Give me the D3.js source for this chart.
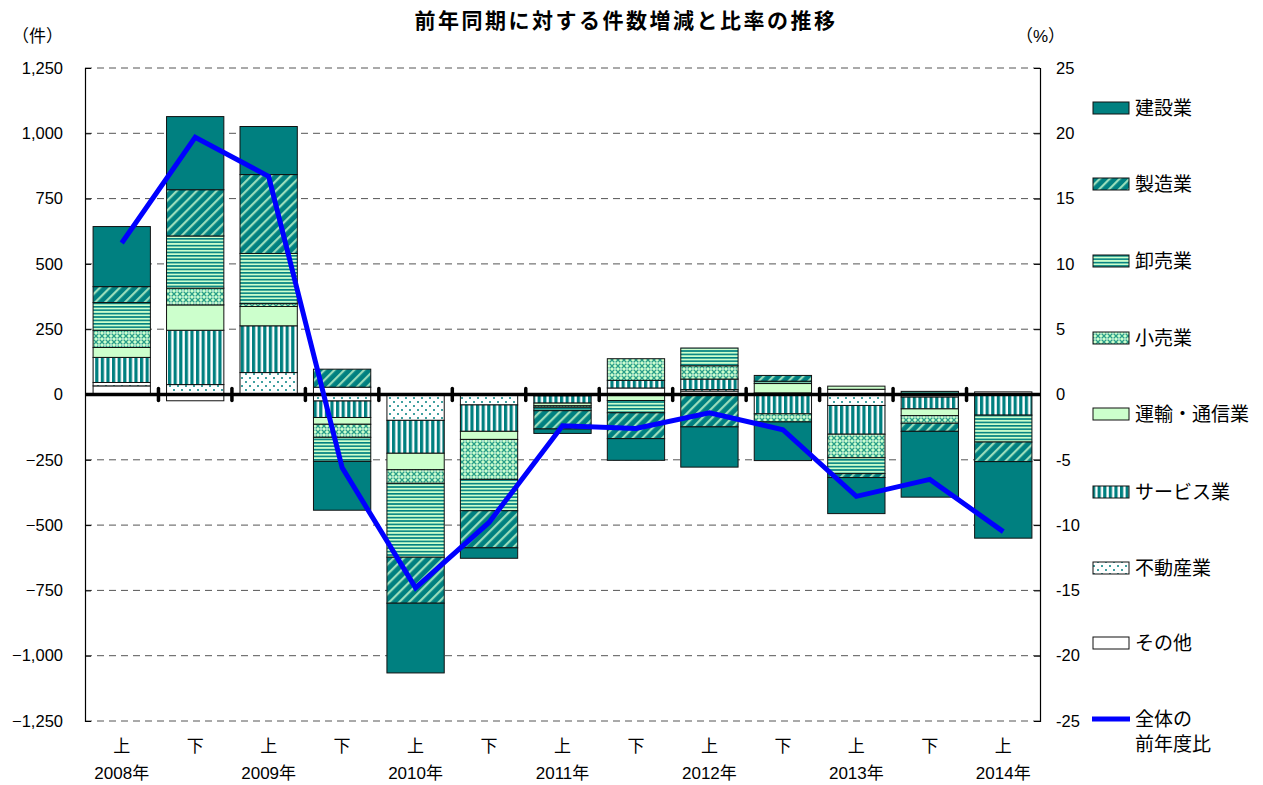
<!DOCTYPE html>
<html><head><meta charset="utf-8">
<script src="https://cdn.jsdelivr.net/npm/d3@7"></script>
<style>
body{margin:0;background:#fff;}
svg{display:block;font-family:Arial,"Liberation Sans","Noto Sans CJK JP",sans-serif;}
</style></head>
<body>
<svg id="chart" width="1263" height="785"></svg>
<script>
// ---- data ----
const halves = ["上","下","上","下","上","下","上","下","上","下","上","下","上"];
const years  = ["2008年","","2009年","","2010年","","2011年","","2012年","","2013年","","2014年"];
const seriesNames = ["その他","不動産業","サービス業","運輸・通信業","小売業","卸売業","製造業","建設業"];
const sonota   = [33, -24, 0, 28, 0, 0, 0, 25, 13, 6, 20, -10, 10];
const fudosan  = [13, 38, 84, -25, -99, -40, -5, 0, 6, 0, -42, 0, 0];
const service  = [96, 208, 179, -63, -126, -101, -28, 29, 40, -74, -110, -45, -79];
const unyu     = [38, 97, 74, -26, -63, -31, -10, -23, 0, 36, 12, -26, 0];
const kouri    = [66, 64, 11, -50, -52, -153, -6, 83, 51, -31, -90, -29, 0];
const oroshi   = [106, 200, 192, -92, -283, -120, -13, -47, 68, 9, -61, 12, -103];
const seizo    = [61, 177, 302, 69, -176, -142, -70, -99, -124, 22, -15, -31, -75];
const kensetsu = [230, 280, 184, -187, -267, -40, -17, -83, -154, -148, -138, -252, -293];
const ratio    = [11.6, 19.7, 16.7, -5.6, -14.8, -9.8, -2.4, -2.6, -1.4, -2.7, -7.8, -6.5, -10.5];
const leftTicks  = [1250, 1000, 750, 500, 250, 0, -250, -500, -750, -1000, -1250];
const rightTicks = [25, 20, 15, 10, 5, 0, -5, -10, -15, -20, -25];
const seriesData = [sonota, fudosan, service, unyu, kouri, oroshi, seizo, kensetsu];

const svg = d3.select("#chart");
const L = 85, R = 1040, T = 68, B = 721;
const TEAL = "#008080", LG = "#ccffcc";

// ---- patterns ----
const defs = svg.append("defs");
function pat(id, w, h, extra){ const p = defs.append("pattern").attr("id", id).attr("patternUnits","userSpaceOnUse").attr("width", w).attr("height", h); if(extra) extra(p); return p; }
// diagonal (製造業)
pat("p-diag", 7, 7, p => p.attr("patternTransform","rotate(45)"))
  .call(p => { p.append("rect").attr("width",7).attr("height",7).attr("fill",TEAL);
               p.append("rect").attr("x",0).attr("width",2.2).attr("height",7).attr("fill","#99ddbb"); });
// horizontal (卸売業)
pat("p-horiz", 6, 3.4).call(p => { p.append("rect").attr("width",6).attr("height",3.4).attr("fill",LG);
               p.append("rect").attr("y",0).attr("width",6).attr("height",1.6).attr("fill",TEAL); });
// cross (小売業)
pat("p-cross", 6, 6).call(p => { p.append("rect").attr("width",6).attr("height",6).attr("fill",LG);
               p.append("path").attr("d","M0,0L6,6M6,0L0,6").attr("stroke","#2a9d8a").attr("stroke-width",1.3);
               p.append("circle").attr("cx",3).attr("cy",3).attr("r",0.9).attr("fill","#e8fff0"); });
// vertical (サービス業)
pat("p-vert", 5.6, 6).call(p => { p.append("rect").attr("width",5.6).attr("height",6).attr("fill","#fff");
               p.append("rect").attr("x",0).attr("width",3.2).attr("height",6).attr("fill",TEAL); });
// dots (不動産業)
pat("p-dots", 8, 8).call(p => { p.append("rect").attr("width",8).attr("height",8).attr("fill","#fff");
               p.append("circle").attr("cx",2).attr("cy",2).attr("r",1).attr("fill",TEAL);
               p.append("circle").attr("cx",6).attr("cy",6).attr("r",1).attr("fill",TEAL); });

const fills = {
  "その他":"#ffffff", "不動産業":"url(#p-dots)", "サービス業":"url(#p-vert)", "運輸・通信業":LG,
  "小売業":"url(#p-cross)", "卸売業":"url(#p-horiz)", "製造業":"url(#p-diag)", "建設業":TEAL
};

// ---- scales ----
const idx = d3.range(halves.length);
const x = d3.scaleBand().domain(idx).range([L, R]).paddingInner(0.22).paddingOuter(0.11);
const y = d3.scaleLinear().domain([-1250, 1250]).range([B, T]);
const y2 = d3.scaleLinear().domain([-25, 25]).range([B, T]);

// ---- grid ----
svg.append("g").selectAll("line").data(leftTicks.filter(d => d !== 0)).join("line")
  .attr("x1", L).attr("x2", R).attr("y1", d => y(d)).attr("y2", d => y(d))
  .attr("stroke", "#555").attr("stroke-width", 1).attr("stroke-dasharray", "7,5");

// ---- stacked bars ----
const rows = idx.map(i => { const o = {i}; seriesNames.forEach((k, s) => o[k] = seriesData[s][i]); return o; });
const stacked = d3.stack().keys(seriesNames).offset(d3.stackOffsetDiverging)(rows);
const gb = svg.append("g");
stacked.forEach(layer => {
  gb.append("g").selectAll("rect").data(layer.filter(d => d[1] !== d[0])).join("rect")
    .attr("x", d => x(d.data.i)).attr("width", x.bandwidth())
    .attr("y", d => y(Math.max(d[0], d[1]))).attr("height", d => Math.abs(y(d[0]) - y(d[1])))
    .attr("fill", fills[layer.key]).attr("stroke", "#111").attr("stroke-width", 1);
});

// ---- axes ----
const yAxisL = d3.axisLeft(y).tickValues(leftTicks).tickSize(-6).tickPadding(22).tickFormat(d3.format(","));
const gL = svg.append("g").attr("transform", `translate(${L},0)`).call(yAxisL);
const yAxisR = d3.axisRight(y2).tickValues(rightTicks).tickSize(-6).tickPadding(16).tickFormat(d => d);
const gR = svg.append("g").attr("transform", `translate(${R},0)`).call(yAxisR);
[gL, gR].forEach(g => {
  g.select(".domain").attr("stroke", "#000").attr("stroke-width", 1.2);
  g.selectAll(".tick line").attr("stroke", "#000");
  g.selectAll("text").attr("font-size", 16.5).attr("fill", "#000").attr("font-family", "Arial, 'Liberation Sans', sans-serif");
});

// zero line + category ticks
svg.append("line").attr("x1", L).attr("x2", R).attr("y1", y(0)).attr("y2", y(0))
  .attr("stroke", "#000").attr("stroke-width", 3.5);
svg.append("g").selectAll("line").data(d3.range(1, halves.length)).join("line")
  .attr("x1", d => x(d) - x.step() * x.paddingInner() / 2).attr("x2", d => x(d) - x.step() * x.paddingInner() / 2)
  .attr("y1", y(0) - 6).attr("y2", y(0) + 6)
  .attr("stroke", "#000").attr("stroke-width", 3.5).attr("stroke-linecap", "round");

// x labels
const gx = svg.append("g").attr("font-size", 17).attr("text-anchor", "middle").attr("fill", "#000");
gx.selectAll("text.h").data(idx).join("text").attr("class", "h")
  .attr("x", i => x(i) + x.bandwidth() / 2).attr("y", 752).text(i => halves[i]);
gx.selectAll("text.yr").data(idx.filter(i => years[i])).join("text").attr("class", "yr")
  .attr("x", i => x(i) + x.bandwidth() / 2).attr("y", 779).text(i => years[i]);

// ---- line ----
const line = d3.line().x((d, i) => x(i) + x.bandwidth() / 2).y(d => y2(d));
svg.append("path").datum(ratio).attr("d", line).attr("fill", "none")
  .attr("stroke", "#0000ff").attr("stroke-width", 5).attr("stroke-linejoin", "miter");

// ---- titles ----
svg.append("text").attr("x", 626).attr("y", 28).attr("text-anchor", "middle")
  .attr("font-size", 21).attr("font-weight", "bold").attr("letter-spacing", 2.5)
  .text("前年同期に対する件数増減と比率の推移");
svg.append("text").attr("x", 12).attr("y", 42).attr("font-size", 17).text("（件）");
svg.append("text").attr("x", 1016).attr("y", 42).attr("font-size", 17).text("（%）");

// ---- legend ----
const legendKeys = ["建設業","製造業","卸売業","小売業","運輸・通信業","サービス業","不動産業","その他"];
const legendY = [108, 184, 261, 338, 414, 492, 568, 643];
const lg = svg.append("g");
legendKeys.forEach((k, j) => {
  lg.append("rect").attr("x", 1093).attr("y", legendY[j] - 6).attr("width", 36).attr("height", 12)
    .attr("fill", fills[k]).attr("stroke", "#111").attr("stroke-width", 1);
  lg.append("text").attr("x", 1135).attr("y", legendY[j] + 7).attr("font-size", 19).text(k);
});
lg.append("line").attr("x1", 1092).attr("x2", 1130).attr("y1", 719).attr("y2", 719)
  .attr("stroke", "#0000ff").attr("stroke-width", 5);
lg.append("text").attr("x", 1135).attr("y", 726).attr("font-size", 19).text("全体の");
lg.append("text").attr("x", 1135).attr("y", 751).attr("font-size", 19).text("前年度比");
</script>
</body></html>
